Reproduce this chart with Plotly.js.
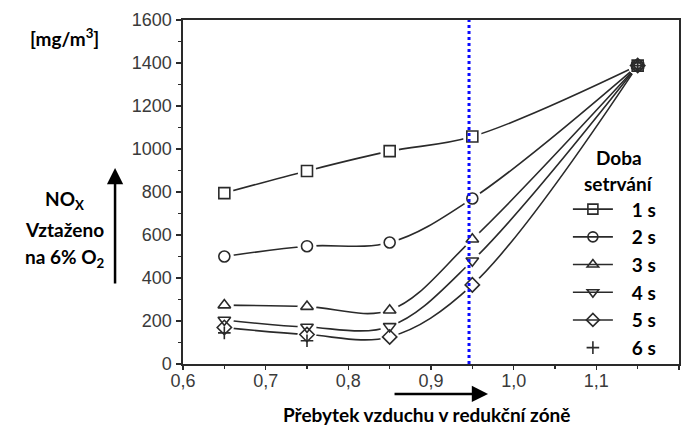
<!DOCTYPE html>
<html>
<head>
<meta charset="utf-8">
<script src="https://cdn.plot.ly/plotly-3.0.1.min.js"></script>
<style>html,body{margin:0;padding:0;background:#fff;}#chart{width:689px;height:427px;}</style>
</head>
<body>
<div id="chart"></div>
<script>
// ---- data ----
const xVals = [0.65, 0.75, 0.85, 0.95, 1.15];
const s1 = [795, 898, 990, 1058, 1388];
const s2 = [500, 548, 565, 770, 1388];
const s3 = [274, 267, 250, 580, 1388];
const s4 = [205, 172, 175, 480, 1388];
const s5 = [170, 137, 126, 368, 1388];
const s6 = [145, 108, null, null, 1388];
const seriesNames = ['1 s', '2 s', '3 s', '4 s', '5 s', '6 s'];
const xTickVals = [0.6, 0.7, 0.8, 0.9, 1.0, 1.1, 1.2];
const yTickVals = [0, 200, 400, 600, 800, 1000, 1200, 1400, 1600];
const markerLine = 0.946;

const lineSeries = [s1, s2, s3, s4, s5];
const symbols = ['square-open', 'circle-open', 'triangle-up-open', 'triangle-down-open', 'diamond-open'];
const ink = '#2a2a2a';
const traces = [];

// curves
lineSeries.forEach(s => traces.push({
  x: xVals, y: s, mode: 'lines', type: 'scatter',
  line: {shape: 'spline', smoothing: 1, color: ink, width: 1.6},
  showlegend: false, hoverinfo: 'skip'
}));
// white masks to leave a gap around markers
lineSeries.forEach(s => traces.push({
  x: xVals, y: s, mode: 'markers', type: 'scatter',
  marker: {symbol: 'circle', size: 19, color: '#ffffff'},
  showlegend: false, hoverinfo: 'skip'
}));
// markers
lineSeries.forEach((s, i) => traces.push({
  x: xVals, y: s, mode: 'markers', type: 'scatter',
  marker: {symbol: symbols[i], size: 11, color: ink, line: {width: 1.6, color: ink}},
  showlegend: false
}));
traces.push({
  x: xVals, y: s6, mode: 'markers', type: 'scatter',
  marker: {symbol: 'cross-thin-open', size: 9, color: ink, line: {width: 1.6, color: ink}},
  showlegend: false
});
// legend entries
const pad = '\u00a0\u00a0\u00a0';
symbols.forEach((sym, i) => traces.push({
  x: [null], y: [null], mode: 'lines+markers', type: 'scatter',
  name: pad + seriesNames[i], legendgroup: 'g' + i,
  line: {color: ink, width: 1.6},
  marker: {symbol: sym, size: 10, color: ink, line: {width: 1.6, color: ink}}
}));
traces.push({
  x: [null], y: [null], mode: 'markers', type: 'scatter',
  name: pad + seriesNames[5], legendgroup: 'g5',
  marker: {symbol: 'cross-thin-open', size: 9, color: ink, line: {width: 1.6, color: ink}}
});

function bold(sz) { return {family: 'Lato, "Open Sans", sans-serif', size: sz || 19, color: '#000', weight: 700}; }
function label(x, y, text, sz) {
  return {xref: 'paper', yref: 'paper', x: x, y: y, xanchor: 'center', yanchor: 'middle',
          text: text, showarrow: false, font: bold(sz)};
}
function tickFont() { return {family: '"Liberation Sans", Arial, sans-serif', size: 18, color: '#3a3a3a'}; }

const layout = {
  width: 689, height: 427,
  margin: {l: 183, r: 10, t: 20, b: 63},
  paper_bgcolor: '#ffffff', plot_bgcolor: '#ffffff',
  separators: ', ',
  showlegend: true,
  legend: {
    x: 0.776, y: 0.505, xanchor: 'left', yanchor: 'top',
    font: bold(19), bgcolor: 'rgba(0,0,0,0)', itemwidth: 40,
    tracegroupgap: 3, traceorder: 'normal'
  },
  xaxis: {
    range: [0.6, 1.2], tickvals: xTickVals, tickformat: '.1f',
    showgrid: false, zeroline: false,
    showline: true, linecolor: ink, linewidth: 1.6, mirror: true,
    ticks: 'outside', ticklen: 4, tickwidth: 1.3, tickcolor: ink, ticklabelstandoff: -4,
    minor: {dtick: 0.05, ticks: 'outside', ticklen: 3, tickcolor: ink, tickwidth: 1.2},
    tickfont: tickFont()
  },
  yaxis: {
    range: [0, 1600], tickvals: yTickVals, tickformat: 'd',
    showgrid: false, zeroline: false,
    showline: true, linecolor: ink, linewidth: 1.6, mirror: true,
    ticks: 'outside', ticklen: 5, tickwidth: 1.3, tickcolor: ink, ticklabelstandoff: 1,
    minor: {dtick: 100, ticks: 'outside', ticklen: 3, tickcolor: ink, tickwidth: 1.2},
    tickfont: tickFont()
  },
  shapes: [{
    type: 'line', xref: 'x', yref: 'y', x0: markerLine, x1: markerLine, y0: 0, y1: 1600,
    line: {color: '#0a0aff', width: 3, dash: 'dot'}, layer: 'above'
  }],
  annotations: [
    label(-0.238, 0.948, '[mg/m<sup>3</sup>]'),
    label(-0.238, 0.477, 'NO<sub>X</sub>'),
    label(-0.238, 0.390, 'Vztaženo'),
    label(-0.238, 0.308, 'na 6% O<sub>2</sub>'),
    label(0.879, 0.599, 'Doba'),
    label(0.879, 0.526, 'setrvání'),
    label(0.49, -0.148, 'Přebytek vzduchu v redukční zóně'),
    {xref: 'paper', yref: 'paper', x: -0.137, y: 0.570, ax: 0, ay: 117, text: '', showarrow: true,
     arrowhead: 2, arrowsize: 1.3, arrowwidth: 2.5, arrowcolor: '#000'},
    {xref: 'paper', yref: 'paper', x: 0.615, y: -0.087, ax: -95, ay: 0, text: '', showarrow: true,
     arrowhead: 2, arrowsize: 1.3, arrowwidth: 2.5, arrowcolor: '#000'}
  ]
};
Plotly.newPlot('chart', traces, layout, {displayModeBar: false, staticPlot: true});
</script>
</body>
</html>
